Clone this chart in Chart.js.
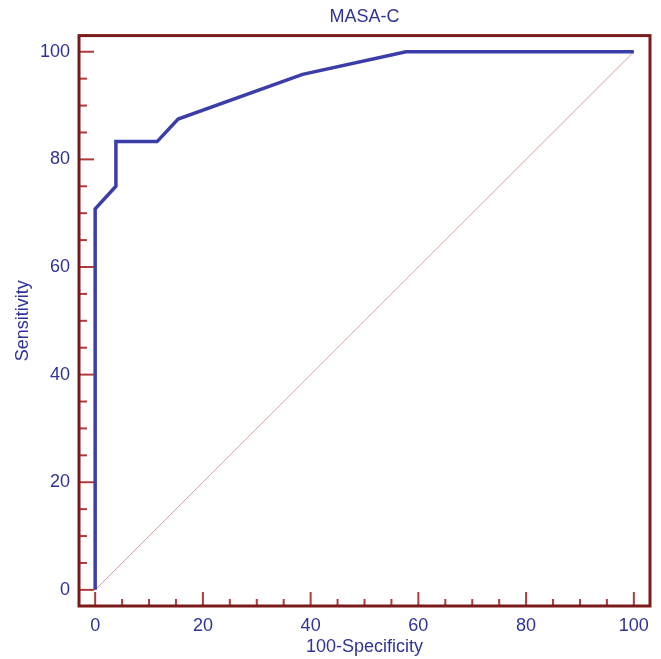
<!DOCTYPE html>
<html>
<head>
<meta charset="utf-8">
<script src="https://cdn.jsdelivr.net/npm/chart.js@4.4.0/dist/chart.umd.min.js"></script>
<style>
  html, body { margin: 0; padding: 0; background: #fff; }
  #wrap { width: 661px; height: 659px; }
</style>
</head>
<body>
<div id="wrap"><canvas id="roc"></canvas></div>
<script>
// ROC curve points (100-Specificity, Sensitivity)
const specPoints = [0, 0, 3.85, 3.85, 11.5, 15.4, 38.5, 57.7, 100];
const sensPoints = [0, 70.8, 75, 83.3, 83.3, 87.5, 95.8, 100, 100];
// reference diagonal
const diagX = [0, 100];
const diagY = [0, 100];
// tick labels
const majorTicks = [0, 20, 40, 60, 80, 100];
const minorTicks = [5, 10, 15, 25, 30, 35, 45, 50, 55, 65, 70, 75, 85, 90, 95];

const blueText = '#2f3399';
const frameColor = '#7a1a1a';
const tickColor = '#b03a3a';
const font = { family: 'Liberation Sans, Arial, sans-serif', size: 18, weight: 'normal' };

// frame around the plot and inward tick marks
const framePlugin = {
    id: 'frame',
    afterDatasetsDraw(chart) {
        const c = chart.ctx;
        const a = chart.chartArea;
        const xs = chart.scales.x, ys = chart.scales.y;
        c.save();
        c.strokeStyle = tickColor;
        c.lineWidth = 2;
        majorTicks.forEach(v => {
            const px = xs.getPixelForValue(v);
            c.beginPath(); c.moveTo(px, a.bottom); c.lineTo(px, a.bottom - 14); c.stroke();
            const py = ys.getPixelForValue(v);
            c.beginPath(); c.moveTo(a.left, py); c.lineTo(a.left + 15, py); c.stroke();
        });
        minorTicks.forEach(v => {
            const px = xs.getPixelForValue(v);
            c.beginPath(); c.moveTo(px, a.bottom); c.lineTo(px, a.bottom - 7); c.stroke();
            const py = ys.getPixelForValue(v);
            c.beginPath(); c.moveTo(a.left, py); c.lineTo(a.left + 8, py); c.stroke();
        });
        c.strokeStyle = frameColor;
        c.lineWidth = 3;
        c.strokeRect(a.left, a.top, a.right - a.left, a.bottom - a.top);
        c.restore();
    }
};

const ctx = document.getElementById('roc').getContext('2d');
const rocChart = new Chart(ctx, {
    type: 'scatter',
    data: {
        datasets: [{
            data: diagX.map((x, i) => ({ x: x, y: diagY[i] })),
            showLine: true,
            borderColor: '#dc9f9f',
            borderWidth: 1,
            pointRadius: 0,
            order: 2
        }, {
            data: specPoints.map((x, i) => ({ x: x, y: sensPoints[i] })),
            showLine: true,
            borderColor: '#3b3ea8',
            borderWidth: 3.5,
            pointRadius: 0,
            tension: 0,
            order: 1
        }]
    },
    options: {
        responsive: true,
        maintainAspectRatio: false,
        animation: false,
        layout: { padding: { left: 0, right: 11, top: 0, bottom: 0 } },
        plugins: {
            legend: { display: false },
            tooltip: { enabled: false },
            title: {
                display: true,
                fullSize: false,
                text: 'MASA-C',
                color: blueText,
                font: font,
                padding: { top: 6, bottom: 8 }
            }
        },
        scales: {
            x: {
                type: 'linear',
                min: -3,
                max: 103,
                afterBuildTicks: s => { s.ticks = majorTicks.map(v => ({ value: v })); },
                afterFit: s => { s.height = 53; },
                grid: { display: false, drawTicks: false },
                border: { display: false },
                ticks: { color: blueText, font: font, padding: 9, maxRotation: 0 },
                title: {
                    display: true,
                    text: '100-Specificity',
                    color: blueText,
                    font: font,
                    padding: { top: 0, bottom: 1 }
                }
            },
            y: {
                type: 'linear',
                min: -3,
                max: 103,
                afterBuildTicks: s => { s.ticks = majorTicks.map(v => ({ value: v })); },
                afterFit: s => { s.width = 79; },
                grid: { display: false, drawTicks: false },
                border: { display: false },
                ticks: { color: blueText, font: font, padding: 9 },
                title: {
                    display: true,
                    text: 'Sensitivity',
                    color: blueText,
                    font: font,
                    padding: { top: 12, bottom: 0 }
                }
            }
        }
    },
    plugins: [framePlugin]
});
</script>
</body>
</html>
